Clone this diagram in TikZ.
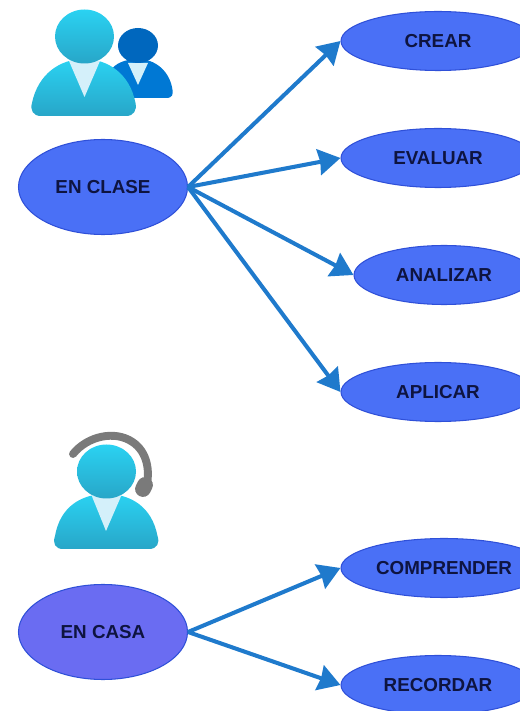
\documentclass[tikz,border=0pt]{standalone}
\usepackage{fontspec}
\setmainfont{Liberation Sans}
\usetikzlibrary{shapes.geometric,arrows.meta}

\tikzset{
  level/.style = {ellipse, draw=levelborder, fill=levelblue, line width=0.6pt, inner sep=0,
                  minimum width=3.88cm, minimum height=1.18cm, text=labelink, font=\fontsize{10.7}{12}\selectfont\bfseries},
  mode/.style = {level, minimum width=3.38cm, minimum height=1.90cm},
  arrowline/.style = {draw=arrowblue, line width=2.3pt, -{Stealth[length=4.4mm,width=5.2mm,inset=0.3mm]}},
  skin/.style = {top color=skintop, bottom color=skinbottom, draw=none},
  vest/.style = {fill=vestlight, draw=none}
}
\definecolor{levelblue}{HTML}{4A70F6}
\definecolor{levelborder}{HTML}{2F50D8}
\definecolor{casablue}{HTML}{6A6CF2}
\definecolor{labelink}{HTML}{0E1440}
\definecolor{arrowblue}{HTML}{1F7ACC}
\definecolor{skintop}{HTML}{2AD2F2}
\definecolor{skinbottom}{HTML}{28A6C8}
\definecolor{vestlight}{HTML}{D4F0FA}
\definecolor{darkhead}{HTML}{0067BE}
\definecolor{darkbody}{HTML}{0078D4}
\definecolor{headset}{HTML}{7A7A7A}

\begin{document}
\begin{tikzpicture}
\clip (0,0) rectangle (10.4,14.22);

% left ovals
\node[mode] (clase) at (2.06,10.48) {EN CLASE};
\node[mode, fill=casablue] (casa) at (2.06,1.58) {EN CASA};

% right ovals
\node[level] (crear) at (8.76,13.40) {CREAR};
\node[level] (evaluar) at (8.76,11.06) {EVALUAR};
\node[level, minimum width=3.6cm] (analizar) at (8.88,8.72) {ANALIZAR};
\node[level] (aplicar) at (8.76,6.38) {APLICAR};
\node[level, minimum width=4.12cm] (comprender) at (8.88,2.86) {COMPRENDER};
\node[level] (recordar) at (8.76,0.52) {RECORDAR};

\draw[arrowline] (clase.east) -- (crear.west);
\draw[arrowline] (clase.east) -- (evaluar.west);
\draw[arrowline] (clase.east) -- (analizar.west);
\draw[arrowline] (clase.east) -- (aplicar.west);
\draw[arrowline] (casa.east) -- (comprender.west);
\draw[arrowline] (casa.east) -- (recordar.west);

% small person behind
\fill[darkbody] (2.42,12.26) -- (3.32,12.26) .. controls (3.46,12.26) and (3.46,12.34) .. (3.45,12.42) .. controls (3.40,12.80) and (3.10,13.04) .. (2.76,13.04) .. controls (2.50,13.04) and (2.30,12.95) .. (2.20,12.80) -- cycle;
\fill[vest] (2.56,12.96) -- (2.96,12.96) -- (2.76,12.52) -- cycle;
\fill[darkhead] (2.76,13.31) ellipse (0.40 and 0.35);

% big person
\shade[skin] (0.82,11.90) -- (2.52,11.90) .. controls (2.68,11.90) and (2.74,12.02) .. (2.71,12.16) .. controls (2.60,12.74) and (2.16,13.04) .. (1.68,13.04) .. controls (1.20,13.04) and (0.76,12.74) .. (0.64,12.16) .. controls (0.60,12.02) and (0.66,11.90) .. (0.82,11.90) -- cycle;
\fill[vest] (1.38,13.00) -- (2.00,13.00) -- (1.69,12.28) -- cycle;
\shade[skin] (1.69,13.49) ellipse (0.59 and 0.54);

% headset
\draw[headset, line width=4.5pt, line cap=round] (1.46,5.14) .. controls (1.75,5.50) and (2.30,5.62) .. (2.65,5.38) .. controls (2.95,5.18) and (3.00,4.80) .. (2.93,4.50);
\draw[headset, line width=9pt, line cap=round] (2.90,4.52) -- (2.86,4.44);

% person at home
\shade[skin] (1.26,3.24) -- (2.98,3.24) .. controls (3.14,3.24) and (3.20,3.36) .. (3.15,3.50) .. controls (3.04,4.08) and (2.62,4.34) .. (2.12,4.34) .. controls (1.62,4.34) and (1.20,4.08) .. (1.10,3.50) .. controls (1.05,3.36) and (1.10,3.24) .. (1.26,3.24) -- cycle;
\fill[vest] (1.82,4.34) -- (2.44,4.34) -- (2.12,3.60) -- cycle;
\shade[skin] (2.13,4.79) ellipse (0.59 and 0.54);
\end{tikzpicture}
\end{document}
